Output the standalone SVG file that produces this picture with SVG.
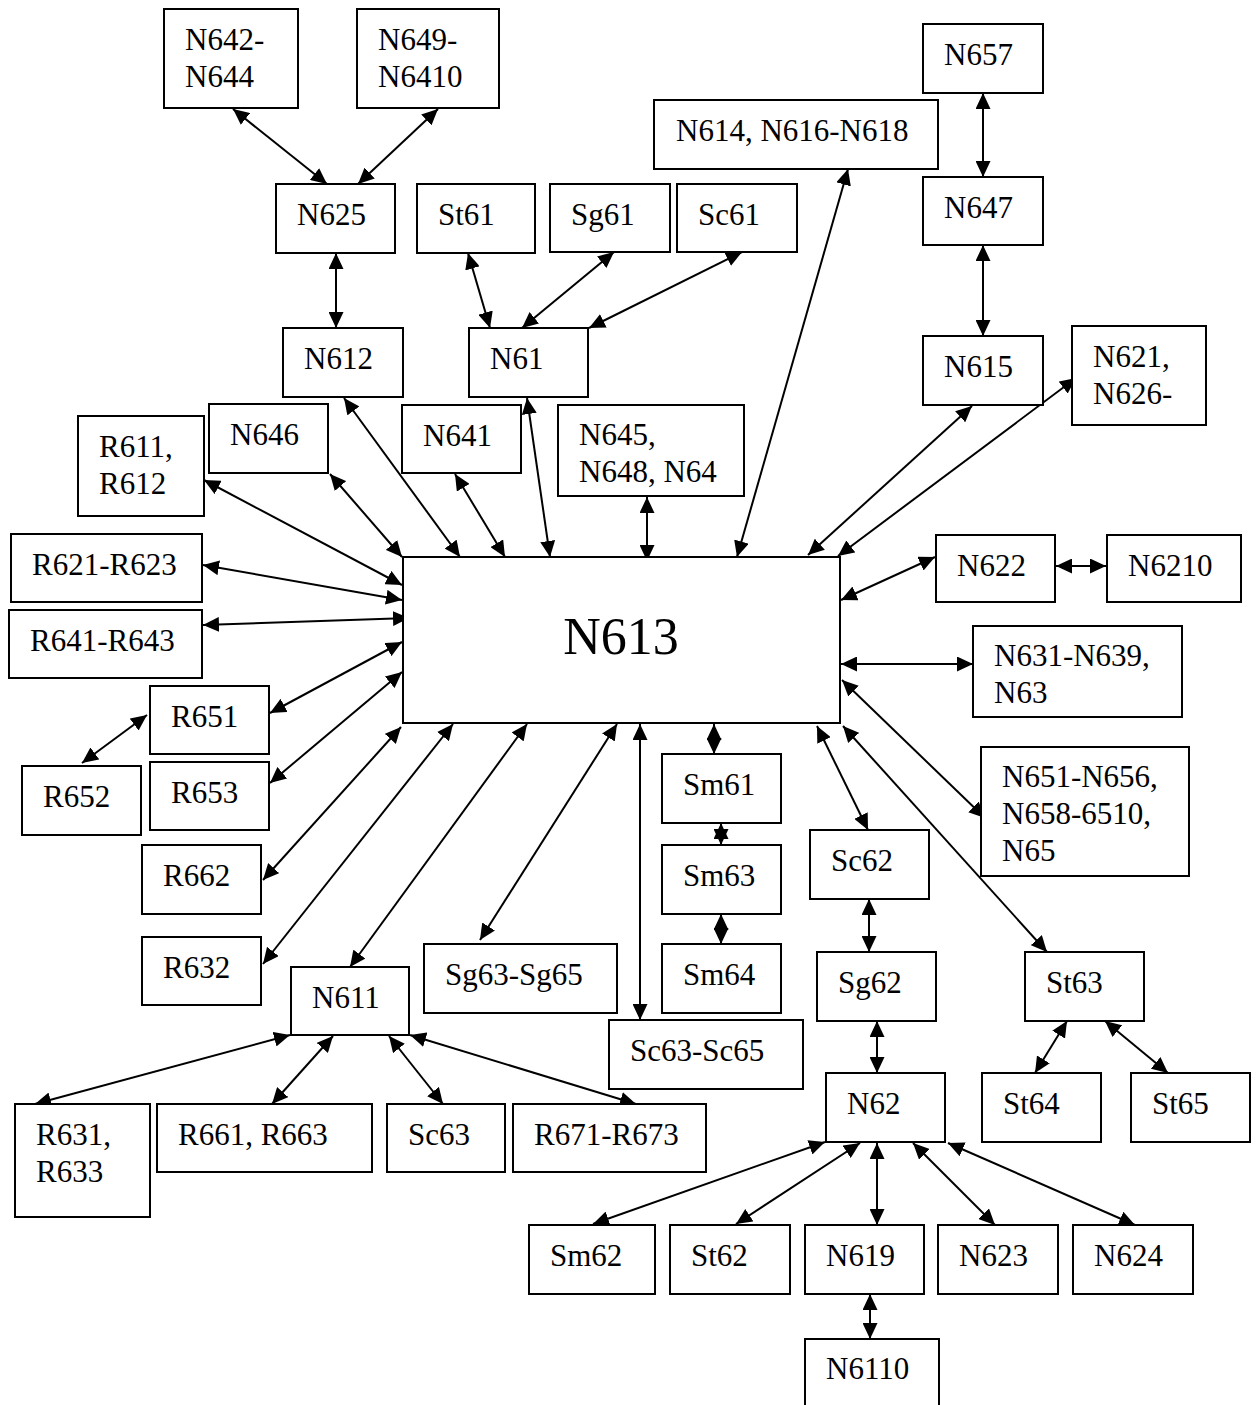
<svg xmlns="http://www.w3.org/2000/svg" width="1256" height="1405" viewBox="0 0 1256 1405">
  <style>
    .box { fill: #fff; stroke: #000; stroke-width: 2; }
    .lbl { font-family: "Liberation Serif", "Times New Roman", serif; font-size: 31px; fill: #000; }
    .big { font-family: "Liberation Serif", "Times New Roman", serif; font-size: 52px; fill: #000; text-anchor: middle; }
    .ln { stroke: #000; stroke-width: 2; fill: none; marker-start: url(#ah); marker-end: url(#ah); }
  </style>
  <defs>
    <marker id="ah" viewBox="0 0 16 15" refX="16" refY="7.5" markerWidth="16" markerHeight="15" markerUnits="userSpaceOnUse" orient="auto-start-reverse">
      <path d="M0,0 L16,7.5 L0,15 z" fill="#000"/>
    </marker>
  </defs>
  <rect width="1256" height="1405" fill="#fff"/>

  <!-- two-way links -->
  <g id="connectors">
    <line class="ln" x1="233" y1="109" x2="327" y2="184"/>
    <line class="ln" x1="438" y1="109" x2="358" y2="184"/>
    <line class="ln" x1="336" y1="253" x2="336" y2="328"/>
    <line class="ln" x1="468" y1="253" x2="490" y2="328"/>
    <line class="ln" x1="614" y1="252" x2="522" y2="328"/>
    <line class="ln" x1="742" y1="252" x2="589" y2="328"/>
    <line class="ln" x1="848" y1="169" x2="737" y2="557"/>
    <line class="ln" x1="983" y1="93" x2="983" y2="177"/>
    <line class="ln" x1="983" y1="245" x2="983" y2="336"/>
    <line class="ln" x1="344" y1="398" x2="460" y2="557"/>
    <line class="ln" x1="330" y1="474" x2="402" y2="557"/>
    <line class="ln" x1="455" y1="474" x2="505" y2="557"/>
    <line class="ln" x1="527" y1="398" x2="550" y2="557"/>
    <line class="ln" x1="647" y1="497" x2="647" y2="561"/>
    <line class="ln" x1="972" y1="406" x2="808" y2="555"/>
    <line class="ln" x1="1076" y1="378" x2="838" y2="556"/>
    <line class="ln" x1="204" y1="480" x2="402" y2="585"/>
    <line class="ln" x1="203" y1="565" x2="402" y2="600"/>
    <line class="ln" x1="203" y1="625" x2="409" y2="618"/>
    <line class="ln" x1="270" y1="713" x2="402" y2="642"/>
    <line class="ln" x1="270" y1="783" x2="402" y2="672"/>
    <line class="ln" x1="82" y1="763" x2="147" y2="715"/>
    <line class="ln" x1="263" y1="880" x2="401" y2="727"/>
    <line class="ln" x1="263" y1="964" x2="453" y2="724"/>
    <line class="ln" x1="350" y1="967" x2="527" y2="724"/>
    <line class="ln" x1="480" y1="940" x2="617" y2="724"/>
    <line class="ln" x1="640" y1="724" x2="640" y2="1020"/>
    <line class="ln" x1="714" y1="724" x2="714" y2="754"/>
    <line class="ln" x1="721" y1="823" x2="721" y2="845"/>
    <line class="ln" x1="721" y1="914" x2="721" y2="944"/>
    <line class="ln" x1="817" y1="726" x2="868" y2="830"/>
    <line class="ln" x1="842" y1="680" x2="985" y2="818"/>
    <line class="ln" x1="843" y1="726" x2="1047" y2="952"/>
    <line class="ln" x1="935" y1="557" x2="841" y2="600"/>
    <line class="ln" x1="1056" y1="566" x2="1106" y2="566"/>
    <line class="ln" x1="841" y1="664" x2="973" y2="664"/>
    <line class="ln" x1="869" y1="899" x2="869" y2="952"/>
    <line class="ln" x1="877" y1="1021" x2="877" y2="1073"/>
    <line class="ln" x1="1067" y1="1021" x2="1035" y2="1073"/>
    <line class="ln" x1="1105" y1="1021" x2="1168" y2="1073"/>
    <line class="ln" x1="825" y1="1142" x2="593" y2="1224"/>
    <line class="ln" x1="860" y1="1143" x2="736" y2="1224"/>
    <line class="ln" x1="877" y1="1143" x2="877" y2="1225"/>
    <line class="ln" x1="913" y1="1143" x2="995" y2="1225"/>
    <line class="ln" x1="948" y1="1143" x2="1135" y2="1225"/>
    <line class="ln" x1="870" y1="1294" x2="870" y2="1339"/>
    <line class="ln" x1="290" y1="1035" x2="35" y2="1104"/>
    <line class="ln" x1="333" y1="1036" x2="272" y2="1104"/>
    <line class="ln" x1="389" y1="1036" x2="443" y2="1104"/>
    <line class="ln" x1="410" y1="1035" x2="636" y2="1104"/>
  </g>

  <!-- central node -->
  <g id="n613"><rect class="box" x="403" y="557" width="437" height="166"/><text class="big" x="621" y="654">N613</text></g>

  <!-- upper nodes -->
  <g id="n642"><rect class="box" x="164" y="9" width="134" height="99"/><text class="lbl" x="185" y="50"><tspan x="185">N642-</tspan><tspan x="185" dy="37">N644</tspan></text></g>
  <g id="n649"><rect class="box" x="357" y="9" width="142" height="99"/><text class="lbl" x="378" y="50"><tspan x="378">N649-</tspan><tspan x="378" dy="37">N6410</tspan></text></g>
  <g id="n625"><rect class="box" x="276" y="184" width="119" height="69"/><text class="lbl" x="297" y="225">N625</text></g>
  <g id="st61"><rect class="box" x="417" y="184" width="118" height="69"/><text class="lbl" x="438" y="225">St61</text></g>
  <g id="sg61"><rect class="box" x="550" y="184" width="120" height="68"/><text class="lbl" x="571" y="225">Sg61</text></g>
  <g id="sc61"><rect class="box" x="677" y="184" width="120" height="68"/><text class="lbl" x="698" y="225">Sc61</text></g>
  <g id="n614"><rect class="box" x="654" y="100" width="284" height="69"/><text class="lbl" x="676" y="141">N614, N616-N618</text></g>
  <g id="n657"><rect class="box" x="923" y="24" width="120" height="69"/><text class="lbl" x="944" y="65">N657</text></g>
  <g id="n647"><rect class="box" x="923" y="177" width="120" height="68"/><text class="lbl" x="944" y="218">N647</text></g>
  <g id="n615"><rect class="box" x="923" y="336" width="120" height="69"/><text class="lbl" x="944" y="377">N615</text></g>
  <g id="n621"><rect class="box" x="1072" y="326" width="134" height="99"/><text class="lbl" x="1093" y="367"><tspan x="1093">N621,</tspan><tspan x="1093" dy="37">N626-</tspan></text></g>
  <g id="n612"><rect class="box" x="283" y="328" width="120" height="69"/><text class="lbl" x="304" y="369">N612</text></g>
  <g id="n61"><rect class="box" x="469" y="328" width="119" height="69"/><text class="lbl" x="490" y="369">N61</text></g>
  <g id="n646"><rect class="box" x="209" y="404" width="119" height="69"/><text class="lbl" x="230" y="445">N646</text></g>
  <g id="n641"><rect class="box" x="402" y="405" width="119" height="68"/><text class="lbl" x="423" y="446">N641</text></g>
  <g id="n645"><rect class="box" x="558" y="405" width="186" height="91"/><text class="lbl" x="579" y="445"><tspan x="579">N645,</tspan><tspan x="579" dy="37">N648, N64</tspan></text></g>

  <!-- left nodes -->
  <g id="r611"><rect class="box" x="78" y="416" width="126" height="100"/><text class="lbl" x="99" y="457"><tspan x="99">R611,</tspan><tspan x="99" dy="37">R612</tspan></text></g>
  <g id="r621"><rect class="box" x="11" y="534" width="191" height="68"/><text class="lbl" x="32" y="575">R621-R623</text></g>
  <g id="r641"><rect class="box" x="9" y="610" width="193" height="68"/><text class="lbl" x="30" y="651">R641-R643</text></g>
  <g id="r651"><rect class="box" x="150" y="686" width="119" height="68"/><text class="lbl" x="171" y="727">R651</text></g>
  <g id="r652"><rect class="box" x="22" y="766" width="119" height="69"/><text class="lbl" x="43" y="807">R652</text></g>
  <g id="r653"><rect class="box" x="150" y="762" width="119" height="68"/><text class="lbl" x="171" y="803">R653</text></g>
  <g id="r662"><rect class="box" x="142" y="845" width="119" height="69"/><text class="lbl" x="163" y="886">R662</text></g>
  <g id="r632"><rect class="box" x="142" y="937" width="119" height="68"/><text class="lbl" x="163" y="978">R632</text></g>

  <!-- right nodes -->
  <g id="n622"><rect class="box" x="936" y="535" width="119" height="67"/><text class="lbl" x="957" y="576">N622</text></g>
  <g id="n6210"><rect class="box" x="1107" y="535" width="134" height="67"/><text class="lbl" x="1128" y="576">N6210</text></g>
  <g id="n631"><rect class="box" x="973" y="626" width="209" height="91"/><text class="lbl" x="994" y="666"><tspan x="994">N631-N639,</tspan><tspan x="994" dy="37">N63</tspan></text></g>
  <g id="n651"><rect class="box" x="981" y="747" width="208" height="129"/><text class="lbl" x="1002" y="787"><tspan x="1002">N651-N656,</tspan><tspan x="1002" dy="37">N658-6510,</tspan><tspan x="1002" dy="37">N65</tspan></text></g>

  <!-- lower nodes -->
  <g id="n611"><rect class="box" x="291" y="967" width="118" height="68"/><text class="lbl" x="312" y="1008">N611</text></g>
  <g id="sg63"><rect class="box" x="424" y="944" width="193" height="69"/><text class="lbl" x="445" y="985">Sg63-Sg65</text></g>
  <g id="sc6365"><rect class="box" x="609" y="1020" width="194" height="69"/><text class="lbl" x="630" y="1061">Sc63-Sc65</text></g>
  <g id="sm61"><rect class="box" x="662" y="754" width="119" height="69"/><text class="lbl" x="683" y="795">Sm61</text></g>
  <g id="sm63"><rect class="box" x="662" y="845" width="119" height="69"/><text class="lbl" x="683" y="886">Sm63</text></g>
  <g id="sm64"><rect class="box" x="662" y="944" width="119" height="69"/><text class="lbl" x="683" y="985">Sm64</text></g>
  <g id="sc62"><rect class="box" x="810" y="830" width="119" height="69"/><text class="lbl" x="831" y="871">Sc62</text></g>
  <g id="sg62"><rect class="box" x="817" y="952" width="119" height="69"/><text class="lbl" x="838" y="993">Sg62</text></g>
  <g id="st63"><rect class="box" x="1025" y="952" width="119" height="69"/><text class="lbl" x="1046" y="993">St63</text></g>
  <g id="n62"><rect class="box" x="826" y="1073" width="119" height="69"/><text class="lbl" x="847" y="1114">N62</text></g>
  <g id="st64"><rect class="box" x="982" y="1073" width="119" height="69"/><text class="lbl" x="1003" y="1114">St64</text></g>
  <g id="st65"><rect class="box" x="1131" y="1073" width="119" height="69"/><text class="lbl" x="1152" y="1114">St65</text></g>
  <g id="r631"><rect class="box" x="15" y="1104" width="135" height="113"/><text class="lbl" x="36" y="1145"><tspan x="36">R631,</tspan><tspan x="36" dy="37">R633</tspan></text></g>
  <g id="r661"><rect class="box" x="157" y="1104" width="215" height="68"/><text class="lbl" x="178" y="1145">R661, R663</text></g>
  <g id="sc63"><rect class="box" x="387" y="1104" width="118" height="68"/><text class="lbl" x="408" y="1145">Sc63</text></g>
  <g id="r671"><rect class="box" x="513" y="1104" width="193" height="68"/><text class="lbl" x="534" y="1145">R671-R673</text></g>
  <g id="sm62"><rect class="box" x="529" y="1225" width="126" height="69"/><text class="lbl" x="550" y="1266">Sm62</text></g>
  <g id="st62"><rect class="box" x="670" y="1225" width="120" height="69"/><text class="lbl" x="691" y="1266">St62</text></g>
  <g id="n619"><rect class="box" x="805" y="1225" width="119" height="69"/><text class="lbl" x="826" y="1266">N619</text></g>
  <g id="n623"><rect class="box" x="938" y="1225" width="120" height="69"/><text class="lbl" x="959" y="1266">N623</text></g>
  <g id="n624"><rect class="box" x="1073" y="1225" width="120" height="69"/><text class="lbl" x="1094" y="1266">N624</text></g>
  <g id="n6110"><rect class="box" x="805" y="1339" width="134" height="80"/><text class="lbl" x="826" y="1379">N6110</text></g>
</svg>
